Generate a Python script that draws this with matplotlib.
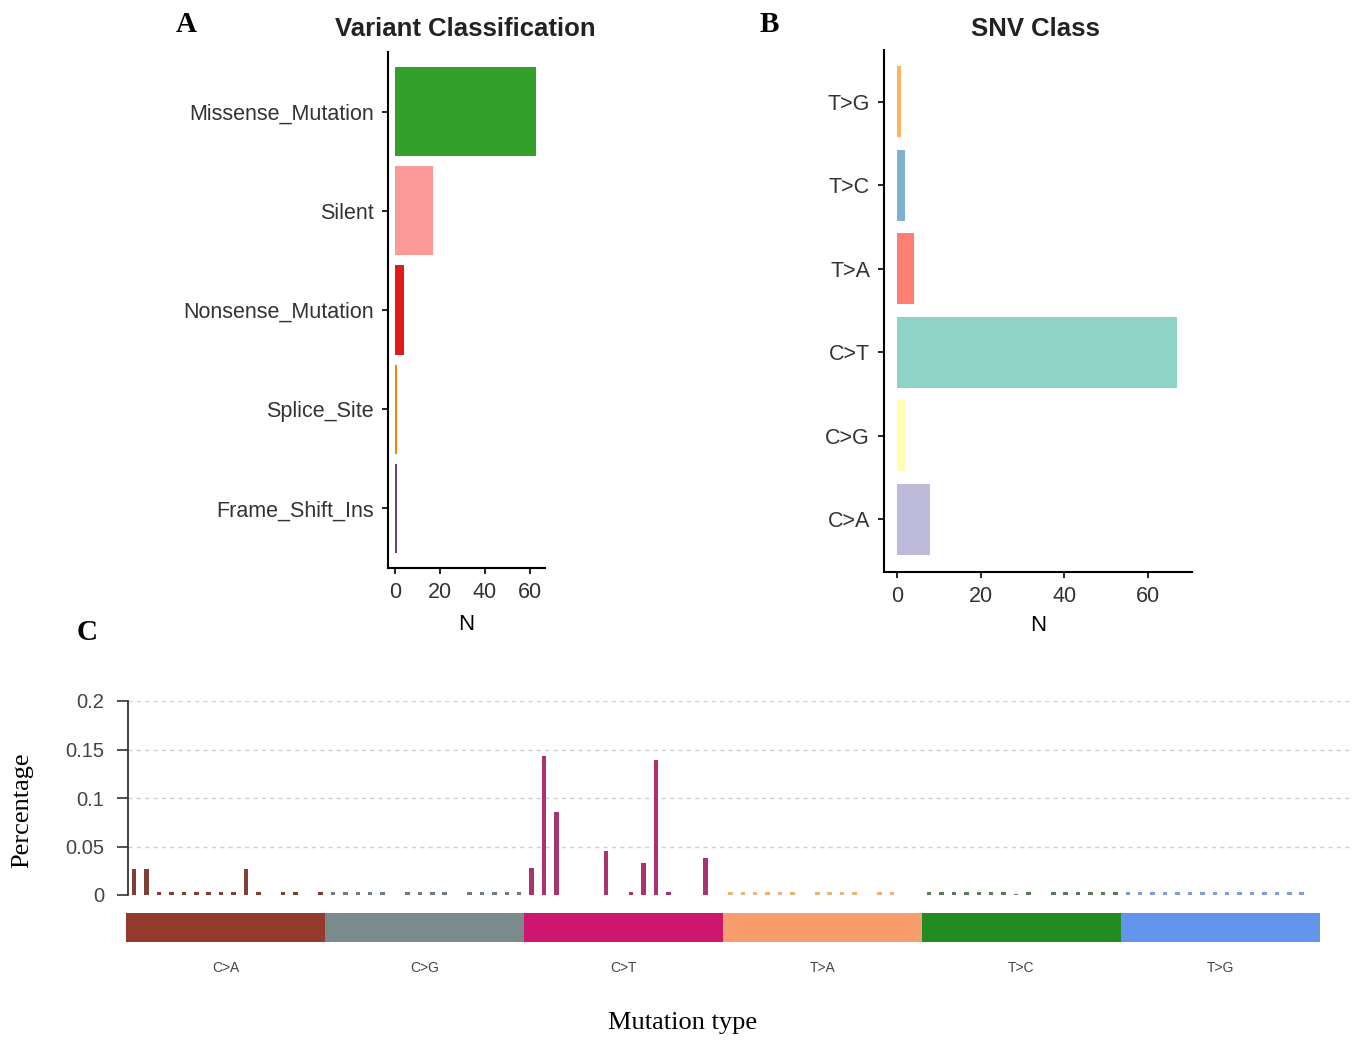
import matplotlib
matplotlib.use("Agg")
import matplotlib.pyplot as plt
from matplotlib.patches import Rectangle

# panel A - variant classification counts
var_classes = ["Missense_Mutation", "Silent", "Nonsense_Mutation", "Splice_Site", "Frame_Shift_Ins"]
var_counts = [63, 17, 4, 1, 1]
var_colors = ["#33A02C", "#FB9A99", "#E31A1C", "#FF7F00", "#6A3D9A"]

# panel B - SNV class counts (bottom to top)
snv_classes = ["C>A", "C>G", "C>T", "T>A", "T>C", "T>G"]
snv_counts = [8, 2, 67, 4, 2, 1]
snv_colors = ["#BEBADA", "#FFFFB3", "#8DD3C7", "#FB8072", "#80B1D3", "#FDB462"]

# panel C - 96 channel spectrum, 16 contexts per substitution group
d = 0.0035
spec_groups = ["C>A", "C>G", "C>T", "T>A", "T>C", "T>G"]
spec_ca = [0.027, 0.027, d, d, d, d, d, d, d, 0.027, d, 0, d, d, 0, d]
spec_cg = [d, d, d, d, d, 0, d, d, d, d, 0, d, d, d, d, d]
spec_ct = [0.028, 0.143, 0.086, 0, 0, 0, 0.045, 0, d, 0.033, 0.139, d, 0, 0, 0.038, 0]
spec_ta = [d, d, d, d, d, d, 0, d, d, d, d, 0, d, d, 0, 0]
spec_tc = [d, d, d, d, d, d, d, 0.0015, d, 0, d, d, d, d, d, d]
spec_tg = [d, d, d, d, d, d, d, d, d, d, d, d, d, d, d, 0]
band_colors = ["#943A2E", "#7B8B8B", "#CC1670", "#F89E6E", "#228B22", "#6495ED"]
bar_colors = ["#7E4034", "#6E7C7C", "#A8336E", "#E8B47A", "#5C7A5C", "#7F9CD8"]
y_ticks = [0, 0.05, 0.1, 0.15, 0.2]
y_ticklabels = ["0", "0.05", "0.1", "0.15", "0.2"]

W, H = 1353, 1040
sans = "Liberation Sans"
serif = "Liberation Serif"
fig = plt.figure(figsize=(W / 100, H / 100), dpi=100)


def px_axes(x0, x1, y0, y1):
    return fig.add_axes([x0 / W, 1 - y1 / H, (x1 - x0) / W, (y1 - y0) / H])


def style_bar_axes(ax):
    for s in ["top", "right"]:
        ax.spines[s].set_visible(False)
    for s in ["left", "bottom"]:
        ax.spines[s].set_linewidth(1.5)
    ax.tick_params(length=4, width=1.2, pad=6, labelsize=15.5, labelcolor="#333333")
    for lab in ax.get_xticklabels() + ax.get_yticklabels():
        lab.set_fontfamily(sans)


# ---- panel A
axA = px_axes(388, 545, 52, 568)
ypos = list(range(len(var_classes)))[::-1]
axA.barh(ypos, var_counts, height=0.9, color=var_colors)
axA.set_yticks(ypos)
axA.set_yticklabels(var_classes)
axA.set_xticks([0, 20, 40, 60])
axA.set_xlim(-3.1, 66.8)
axA.set_ylim(-0.6, len(var_classes) - 0.4)
style_bar_axes(axA)
axA.set_xlabel("N", fontsize=16, family=sans, labelpad=8)

# ---- panel B
axB = px_axes(884, 1192, 50, 572)
axB.barh(range(len(snv_classes)), snv_counts, height=0.85, color=snv_colors)
axB.set_yticks(range(len(snv_classes)))
axB.set_yticklabels(snv_classes)
axB.set_xticks([0, 20, 40, 60])
axB.set_xlim(-3.1, 70.5)
axB.set_ylim(-0.63, len(snv_classes) - 0.38)
style_bar_axes(axB)
axB.set_xlabel("N", fontsize=16, family=sans, labelpad=6)

fig.text(465 / W, 1 - 29 / H, "Variant Classification", ha="center", va="center",
         fontsize=18.5, fontweight="bold", family=sans, color="#222222")
fig.text(1035 / W, 1 - 29 / H, "SNV Class", ha="center", va="center",
         fontsize=18.5, fontweight="bold", family=sans, color="#222222")

# ---- panel C
px_per = 12.42
axC = px_axes(128, 1350, 701, 895)
spectrum = [spec_ca, spec_cg, spec_ct, spec_ta, spec_tc, spec_tg]
for g, vals in enumerate(spectrum):
    xs = [g * 16 + i for i in range(len(vals))]
    axC.bar(xs, vals, width=0.36, color=bar_colors[g])
axC.set_xlim(-0.5, -0.5 + (1350 - 128) / px_per)
axC.set_ylim(0, 0.2)
for yv in y_ticks[1:]:
    axC.axhline(yv, color="#d0d0d0", lw=1.0, ls=(0, (3, 3)), zorder=0)
for s in ["top", "right", "bottom"]:
    axC.spines[s].set_visible(False)
axC.spines["left"].set_linewidth(1.3)
axC.spines["left"].set_color("#333333")
axC.set_xticks([])
axC.set_yticks(y_ticks)
axC.set_yticklabels(y_ticklabels)
axC.tick_params(axis="y", length=8, width=1.2, pad=9, labelsize=14.5,
                labelcolor="#444444", color="#333333")
for lab in axC.get_yticklabels():
    lab.set_fontfamily(sans)

axBand = px_axes(126, 1320, 913, 942)
for g, name in enumerate(spec_groups):
    axBand.add_patch(Rectangle((g * 16 - 0.5, 0), 16, 1, color=band_colors[g], lw=0))
    axBand.text(g * 16 + 7.5, -0.9, name, ha="center", va="center",
                fontsize=10, family=sans, color="#444444")
axBand.set_xlim(-0.5, 95.5)
axBand.set_ylim(0, 1)
axBand.axis("off")

fig.text(22 / W, 1 - 810 / H, "Percentage", rotation=90, ha="center", va="center",
         fontsize=19, family=serif)
fig.text(683 / W, 1 - 1023 / H, "Mutation type", ha="center", va="center",
         fontsize=19, family=serif)

# panel letters
for letter, x, y in [("A", 186, 25), ("B", 769, 25), ("C", 87, 633)]:
    fig.text(x / W, 1 - y / H, letter, ha="center", va="center",
             fontsize=21, fontweight="bold", family=serif)

fig.savefig("out.png", dpi=100)
